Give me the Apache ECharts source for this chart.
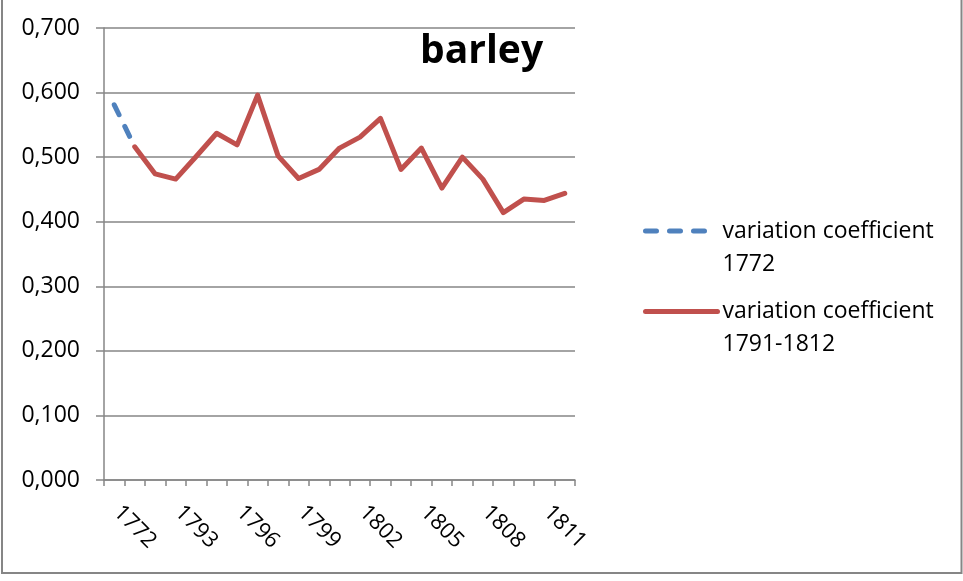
<!DOCTYPE html>
<html>
<head>
<meta charset="utf-8">
<script src="https://cdn.jsdelivr.net/npm/echarts@6/dist/echarts.min.js"></script>
<style>
html,body{margin:0;padding:0;background:#fff;}
#chart{width:963px;height:581px;}
</style>
</head>
<body>
<div id="chart"></div>
<script>
const categories = ['1772','1791','1792','1793','1794','1795','1796','1797','1798','1799','1800','1801','1802','1803','1804','1805','1806','1807','1808','1809','1810','1811','1812'];
const cv1772 = [0.581, 0.516, null, null, null, null, null, null, null, null, null, null, null, null, null, null, null, null, null, null, null, null, null];
const cv1791_1812 = [null, 0.516, 0.474, 0.466, 0.501, 0.537, 0.519, 0.596, 0.502, 0.467, 0.481, 0.514, 0.531, 0.560, 0.481, 0.514, 0.452, 0.500, 0.466, 0.414, 0.435, 0.433, 0.444];
const seriesNames = ['variation coefficient 1772', 'variation coefficient 1791-1812'];
const titleText = 'barley';

const FONT = "'Open Sans', sans-serif";
const chart = echarts.init(document.getElementById('chart'), null, {renderer: 'canvas'});
const legendText = {fontFamily: FONT, fontSize: 23, color: '#000', lineHeight: 33};
// leading blank line keeps the icon level with the first text line
const fmt = n => '\n' + n.replace(' 1', '\n1');
const legendBase = {
  orient: 'vertical', left: 638, itemWidth: 72, itemHeight: 10,
  formatter: fmt, textStyle: legendText,
  itemStyle: {opacity: 0},
  lineStyle: {width: 5, cap: 'round', join: 'round'}
};
chart.setOption({
  animation: false,
  backgroundColor: '#fff',
  title: {
    text: titleText, left: 420, top: 32, padding: 0,
    textStyle: {fontFamily: FONT, fontSize: 39, fontWeight: 'bold', color: '#000'}
  },
  legend: [
    Object.assign({data: [seriesNames[0]], top: 176.5}, legendBase),
    Object.assign({data: [seriesNames[1]], top: 257}, legendBase)
  ],
  grid: {left: 104, right: 388, top: 28, bottom: 101, containLabel: false},
  xAxis: {
    type: 'category', data: categories, boundaryGap: true,
    axisLine: {lineStyle: {color: '#868686', width: 1.5}},
    axisTick: {show: true, interval: 0, length: 6, lineStyle: {color: '#868686', width: 1.5}},
    axisLabel: {interval: 2, rotate: -45, margin: 32, verticalAlign: 'bottom', lineHeight: 8,
      fontFamily: FONT, fontSize: 22, color: '#000'}
  },
  yAxis: {
    type: 'value', min: 0, max: 0.7, interval: 0.1,
    axisLine: {show: true, lineStyle: {color: '#868686', width: 1.5}},
    axisTick: {show: true, length: 8, lineStyle: {color: '#868686', width: 1.5}},
    splitLine: {lineStyle: {color: '#868686', width: 1.5}},
    axisLabel: {margin: 24, fontFamily: FONT, fontSize: 23, color: '#000',
      formatter: v => v.toFixed(3).replace('.', ',')}
  },
  series: [
    {name: seriesNames[0], type: 'line', data: cv1772, symbol: 'none', showSymbol: false,
     connectNulls: false, z: 3,
     lineStyle: {color: '#4F81BD', width: 5, type: [11, 13], cap: 'round', join: 'round'},
     itemStyle: {color: '#4F81BD'}},
    {name: seriesNames[1], type: 'line', data: cv1791_1812, symbol: 'none', showSymbol: false,
     connectNulls: false, z: 2,
     lineStyle: {color: '#C0504D', width: 5, cap: 'round', join: 'round'},
     itemStyle: {color: '#C0504D'}}
  ],
  graphic: [
    {type: 'rect', silent: true, z: 100,
     shape: {x: 2, y: -5, width: 959.5, height: 578},
     style: {fill: 'none', stroke: '#868686', lineWidth: 2}}
  ]
});
</script>
</body>
</html>
